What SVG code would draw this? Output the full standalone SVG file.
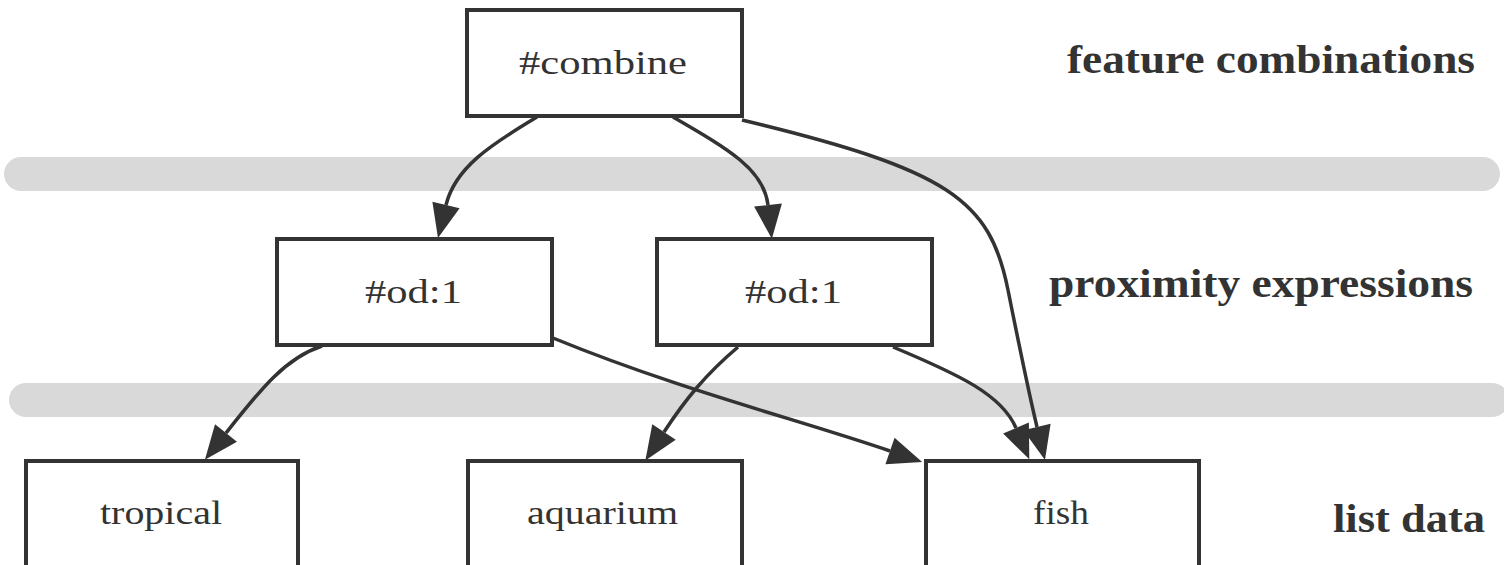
<svg xmlns="http://www.w3.org/2000/svg" width="1504" height="565" viewBox="0 0 1504 565">
<style>
.band{fill:#d9d9d9}
.box{fill:#fff;stroke:#333;stroke-width:4}
.lbl{font-family:"Liberation Serif",serif;font-size:34px;fill:#333}
.side{font-family:"Liberation Serif",serif;font-size:40px;font-weight:bold;fill:#333}
.edge{fill:none;stroke:#333;stroke-width:3.5;marker-end:url(#ah)}
</style>
<defs>
<marker id="ah" markerUnits="userSpaceOnUse" markerWidth="36" markerHeight="30" refX="0" refY="14" orient="auto" overflow="visible">
<path d="M0,0 L34,14 L0,28 z" fill="#333"/>
</marker>
</defs>
<rect width="1504" height="565" fill="#fff"/>
<g id="bands">
<rect class="band" x="4" y="157" width="1496" height="34" rx="17"/>
<rect class="band" x="9" y="383" width="1500" height="34" rx="17"/>
</g>
<g id="connectors">
<path class="edge" d="M537,117 C490,145 455,168 446,205"/>
<path class="edge" d="M673,117 C730,150 764,170 768,205"/>
<path class="edge" d="M742,120 C950,170 990,200 1008,290 C1020,350 1030,398 1037,427"/>
<path class="edge" d="M893,347 C960,375 1002,395 1016,428"/>
<path class="edge" d="M738,347 C705,375 685,400 664,432"/>
<path class="edge" d="M322,346 C285,358 260,390 226,433"/>
<path class="edge" d="M553,338 C680,390 800,420 890,451"/>
</g>
<g id="combine">
<rect class="box" x="467" y="10" width="275" height="106"/>
<text class="lbl" x="519" y="74" textLength="168" lengthAdjust="spacingAndGlyphs">#combine</text>
</g>
<g id="od1-left">
<rect class="box" x="277" y="239" width="275" height="106"/>
<text class="lbl" x="365" y="303" textLength="97" lengthAdjust="spacingAndGlyphs">#od:1</text>
</g>
<g id="od1-right">
<rect class="box" x="657" y="239" width="275" height="106"/>
<text class="lbl" x="745" y="303" textLength="97" lengthAdjust="spacingAndGlyphs">#od:1</text>
</g>
<g id="tropical">
<rect class="box" x="26" y="461" width="272" height="108"/>
<text class="lbl" x="100" y="524" textLength="122" lengthAdjust="spacingAndGlyphs">tropical</text>
</g>
<g id="aquarium">
<rect class="box" x="468" y="461" width="274" height="108"/>
<text class="lbl" x="527" y="524" textLength="151" lengthAdjust="spacingAndGlyphs">aquarium</text>
</g>
<g id="fish">
<rect class="box" x="926" y="461" width="273" height="108"/>
<text class="lbl" x="1033" y="524" textLength="56" lengthAdjust="spacingAndGlyphs">fish</text>
</g>
<g id="side-labels">
<text class="side" x="1067" y="73" textLength="408" lengthAdjust="spacingAndGlyphs">feature combinations</text>
<text class="side" x="1049" y="297" textLength="424" lengthAdjust="spacingAndGlyphs">proximity expressions</text>
<text class="side" x="1333" y="532" textLength="152" lengthAdjust="spacingAndGlyphs">list data</text>
</g>
</svg>
